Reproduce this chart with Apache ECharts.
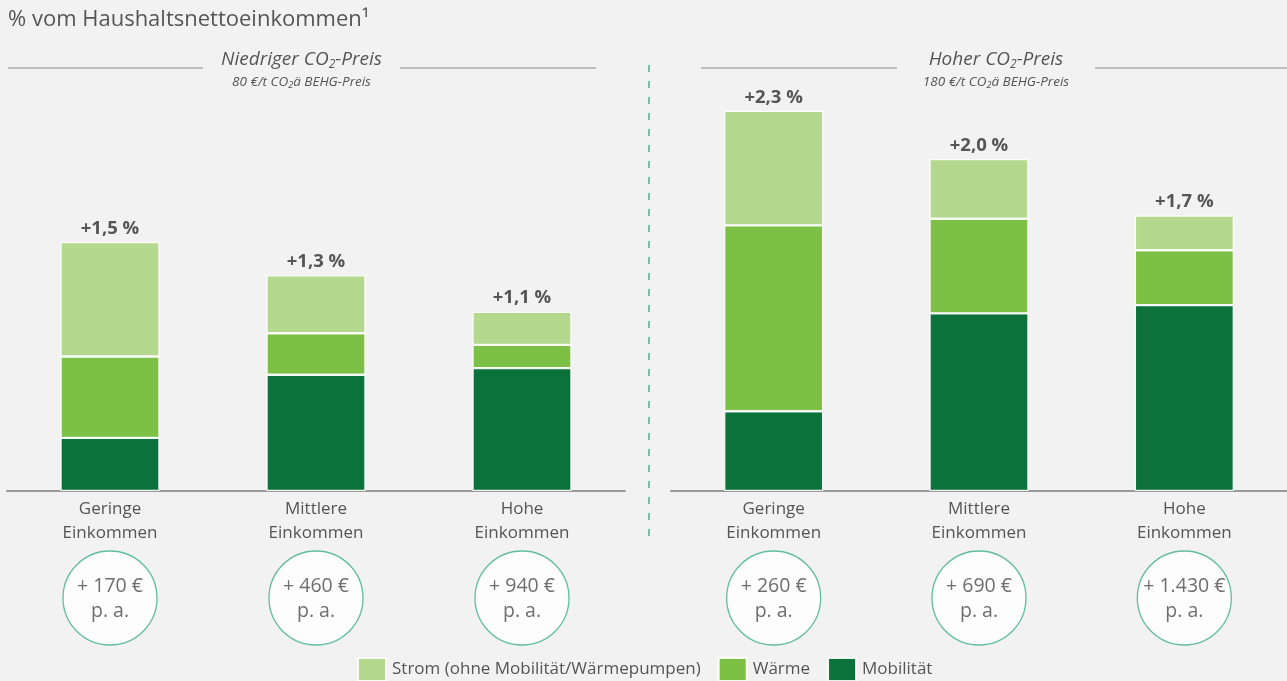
<!DOCTYPE html>
<html lang="de">
<head>
<meta charset="utf-8">
<title>CO2-Preis Belastung nach Einkommen</title>
<script src="https://cdn.jsdelivr.net/npm/echarts@6/dist/echarts.min.js"></script>
<style>
  html, body { margin: 0; padding: 0; background: #f1f2f1; }
  #chart { width: 1287px; height: 681px; }
</style>
</head>
<body>
<div id="chart"></div>
<script>
// Einkommensgruppen (x-Achse beider Teilgrafiken)
const categories = ['Geringe\nEinkommen', 'Mittlere\nEinkommen', 'Hohe\nEinkommen'];

// Mehrbelastung in % des Haushaltsnettoeinkommens – niedriger CO2-Preis (80 €/t)
const lowMobilitaet = [0.32, 0.70, 0.74];
const lowWaerme     = [0.49, 0.25, 0.14];
const lowStrom      = [0.69, 0.35, 0.20];

// Mehrbelastung – hoher CO2-Preis (180 €/t)
const highMobilitaet = [0.48, 1.07, 1.12];
const highWaerme     = [1.12, 0.57, 0.33];
const highStrom      = [0.69, 0.36, 0.21];

// Absolute Mehrbelastung in € pro Jahr
const lowEuro  = [170, 460, 940];
const highEuro = [260, 690, 1430];

const seriesNames = ['Strom (ohne Mobilität/Wärmepumpen)', 'Wärme', 'Mobilität'];
const colors = { strom: '#b4d98e', waerme: '#7cc045', mobil: '#0c723c' };

const FONT = '"Open Sans", "Noto Sans", sans-serif';
const TEXT = '#555555';

function pct(v) {
  return '+' + v.toFixed(1).replace('.', ',') + ' %';
}
function euro(v) {
  return '+ ' + String(v).replace(/\B(?=(\d{3})+(?!\d))/g, '.') + ' €\np. a.';
}

const barItem = (c) => ({ color: c, borderColor: 'rgba(255,255,255,0.9)', borderWidth: 1.2 });

function stackSeries(idx, mob, waer, strom) {
  const stack = 'panel' + idx;
  return [
    { name: seriesNames[2], type: 'bar', stack, xAxisIndex: idx, yAxisIndex: idx,
      barWidth: 99, data: mob, itemStyle: barItem(colors.mobil), silent: true },
    { name: seriesNames[1], type: 'bar', stack, xAxisIndex: idx, yAxisIndex: idx,
      barWidth: 99, data: waer, itemStyle: barItem(colors.waerme), silent: true },
    { name: seriesNames[0], type: 'bar', stack, xAxisIndex: idx, yAxisIndex: idx,
      barWidth: 99, data: strom, itemStyle: barItem(colors.strom), silent: true,
      label: {
        show: true, position: 'top', distance: 4,
        color: TEXT, fontFamily: FONT, fontWeight: 'bold', fontSize: 18.5,
        formatter: (p) => pct(mob[p.dataIndex] + waer[p.dataIndex] + strom[p.dataIndex])
      } }
  ];
}

function circleSeries(idx, amounts) {
  return {
    type: 'scatter', xAxisIndex: idx, yAxisIndex: idx, silent: true,
    symbol: 'circle', symbolSize: 94,
    data: amounts.map((a, i) => ({ value: [i, 0.5], amount: a })),
    itemStyle: { color: '#ffffff', borderColor: '#3dae8c', borderWidth: 1.3 },
    label: {
      show: true, position: 'inside', color: '#4a4a4a', fontFamily: FONT,
      fontSize: 19.5, lineHeight: 25, offset: [0, 1],
      formatter: (p) => euro(p.data.amount)
    }
  };
}

const barGrids = [
  { left: 7, top: 76, width: 618, height: 415 },
  { left: 671, top: 76, width: 618, height: 415 }
];
const circleGrids = [
  { left: 7, top: 551, width: 618, height: 94 },
  { left: 671, top: 551, width: 618, height: 94 }
];

const xBar = (gi) => ({
  type: 'category', gridIndex: gi, data: categories,
  axisLine: { lineStyle: { color: '#9a9a9a', width: 2 } },
  axisTick: { show: false },
  axisLabel: { color: TEXT, fontFamily: FONT, fontSize: 17, lineHeight: 24, margin: 6 }
});
const yBar = (gi) => ({ type: 'value', gridIndex: gi, min: 0, max: 2.5, show: false, splitLine: { show: false } });
const xCircle = (gi) => ({ type: 'category', gridIndex: gi, data: categories, show: false });
const yCircle = (gi) => ({ type: 'value', gridIndex: gi, min: 0, max: 1, show: false, splitLine: { show: false } });

function panelTitle(cx, label, sub) {
  return [
    { type: 'text', x: cx, y: 60, silent: true,
      style: {
        text: '{a|' + label + ' CO}{s|2}{a|-Preis}', align: 'center', verticalAlign: 'middle',
        rich: {
          a: { fontFamily: FONT, fontStyle: 'italic', fontSize: 19, lineHeight: 22, fill: TEXT },
          s: { fontFamily: FONT, fontStyle: 'italic', fontSize: 12, lineHeight: 12, fill: TEXT, verticalAlign: 'bottom' }
        }
      } },
    { type: 'text', x: cx, y: 82, silent: true,
      style: {
        text: '{a|' + sub + ' CO}{s|2}{a|ä BEHG-Preis}', align: 'center', verticalAlign: 'middle',
        rich: {
          a: { fontFamily: FONT, fontStyle: 'italic', fontSize: 13.5, lineHeight: 15, fill: TEXT },
          s: { fontFamily: FONT, fontStyle: 'italic', fontSize: 9, lineHeight: 9, fill: TEXT, verticalAlign: 'bottom' }
        }
      } }
  ];
}

const hLine = (x1, x2) => ({ type: 'line', silent: true,
  shape: { x1, y1: 68, x2, y2: 68 }, style: { stroke: '#bdbdbd', lineWidth: 2 } });

const option = {
  backgroundColor: '#f1f2f1',
  animation: false,
  textStyle: { fontFamily: FONT },
  grid: [...barGrids, ...circleGrids],
  xAxis: [xBar(0), xBar(1), xCircle(2), xCircle(3)],
  yAxis: [yBar(0), yBar(1), yCircle(2), yCircle(3)],
  legend: {
    data: seriesNames, left: 357, top: 657, padding: 0,
    itemWidth: 28, itemHeight: 23, itemGap: 17,
    icon: 'rect', selectedMode: false,
    textStyle: { color: TEXT, fontFamily: FONT, fontSize: 17, padding: [0, 0, 0, 1] }
  },
  graphic: [
    { type: 'text', x: 8, y: 20, silent: true,
      style: { text: '% vom Haushaltsnettoeinkommen¹', fontFamily: FONT, fontSize: 22,
               fill: TEXT, verticalAlign: 'middle' } },
    hLine(8, 203), hLine(400, 596), hLine(701, 897), hLine(1095, 1287),
    ...panelTitle(301.5, 'Niedriger', '80 €/t'),
    ...panelTitle(996, 'Hoher', '180 €/t'),
    { type: 'line', silent: true, shape: { x1: 649, y1: 65, x2: 649, y2: 543 },
      style: { stroke: '#6cc4a8', lineWidth: 2, lineDash: [7, 9] } }
  ],
  series: [
    ...stackSeries(0, lowMobilitaet, lowWaerme, lowStrom),
    ...stackSeries(1, highMobilitaet, highWaerme, highStrom),
    circleSeries(2, lowEuro),
    circleSeries(3, highEuro)
  ]
};

const chart = echarts.init(document.getElementById('chart'), null, { renderer: 'canvas' });
chart.setOption(option);
</script>
</body>
</html>
